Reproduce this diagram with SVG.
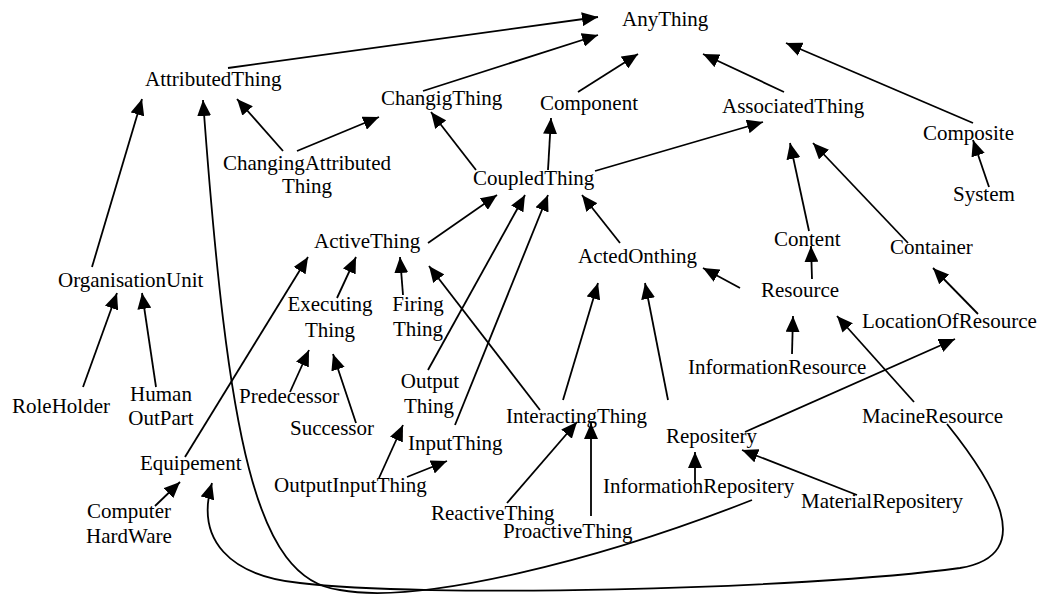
<svg xmlns="http://www.w3.org/2000/svg" width="1041" height="596" viewBox="0 0 1041 596">
  <style>
    text { font-family: "Liberation Serif", "Times New Roman", serif; font-size: 21px; fill: #000; }
    .mid { text-anchor: middle; }
    .edge { fill: none; stroke: #000; stroke-width: 1.8; marker-end: url(#head); }
  </style>
  <defs>
    <marker id="head" markerUnits="userSpaceOnUse" markerWidth="17" markerHeight="14" refX="16" refY="7" orient="auto">
      <path d="M0,0 L16,7 L0,14 z" fill="#000"/>
    </marker>
  </defs>
  <rect width="1041" height="596" fill="#fff"/>

  <!-- connectors: each one points from the child concept to its parent -->
  <g id="connectors">
    <path class="edge" d="M228,68 L598,17"/>
    <path class="edge" d="M423,91 L598,35"/>
    <path class="edge" d="M578,92 L638,54"/>
    <path class="edge" d="M784,92 L703,54"/>
    <path class="edge" d="M973,123 L786,43"/>
    <path class="edge" d="M989,187 L973,140"/>
    <path class="edge" d="M283,151 L237,99"/>
    <path class="edge" d="M297,151 L379,117"/>
    <path class="edge" d="M476,170 L431,112"/>
    <path class="edge" d="M548,170 L551,118"/>
    <path class="edge" d="M595,171 L763,122"/>
    <path class="edge" d="M809,231 L790,143"/>
    <path class="edge" d="M908,243 L813,143"/>
    <path class="edge" d="M92,267 L142,99"/>
    <path class="edge" d="M83,387 L117,293"/>
    <path class="edge" d="M156,387 L142,293"/>
    <path class="edge" d="M428,243 L497,195"/>
    <path class="edge" d="M428,370 L525,195"/>
    <path class="edge" d="M455,425 L548,195"/>
    <path class="edge" d="M620,243 L582,195"/>
    <path class="edge" d="M185,457 L308,257"/>
    <path class="edge" d="M337,298 L356,257"/>
    <path class="edge" d="M403,295 L400,257"/>
    <path class="edge" d="M540,410 L429,266"/>
    <path class="edge" d="M290,392 L309,350"/>
    <path class="edge" d="M356,423 L333,354"/>
    <path class="edge" d="M379,478 L403,425"/>
    <path class="edge" d="M407,477 L447,461"/>
    <path class="edge" d="M507,503 L577,422"/>
    <path class="edge" d="M591,516 L591,423"/>
    <path class="edge" d="M563,400 L598,283"/>
    <path class="edge" d="M668,400 L645,283"/>
    <path class="edge" d="M740,288 L703,268"/>
    <path class="edge" d="M812,279 L811,246"/>
    <path class="edge" d="M792,354 L793,316"/>
    <path class="edge" d="M914,402 L837,316"/>
    <path class="edge" d="M978,314 L933,268"/>
    <path class="edge" d="M745,432 L955,339"/>
    <path class="edge" d="M695,483 L695,452"/>
    <path class="edge" d="M857,495 L742,450"/>
    <path class="edge" d="M155,506 L180,482"/>
    <!-- long curved links running along the bottom -->
    <path class="edge" d="M947,424 C992,480 1040,555 960,568 C800,590 420,598 300,583 C230,576 195,540 212,483"/>
    <path class="edge" d="M752,500 C600,560 420,605 340,590 C255,580 228,440 203,100"/>
  </g>

  <g id="AnyThing"><text x="622" y="26">AnyThing</text></g>
  <g id="AttributedThing"><text x="145" y="86">AttributedThing</text></g>
  <g id="ChangigThing"><text x="381" y="105">ChangigThing</text></g>
  <g id="Component"><text x="540" y="110">Component</text></g>
  <g id="AssociatedThing"><text x="722" y="113">AssociatedThing</text></g>
  <g id="Composite"><text x="923" y="140">Composite</text></g>
  <g id="System"><text x="953" y="201">System</text></g>
  <g id="ChangingAttributedThing"><text class="mid" x="307" y="170">ChangingAttributed</text><text class="mid" x="307" y="193">Thing</text></g>
  <g id="CoupledThing"><text x="473" y="185">CoupledThing</text></g>
  <g id="Content"><text x="774" y="246">Content</text></g>
  <g id="Container"><text x="890" y="254">Container</text></g>
  <g id="ActiveThing"><text x="314" y="248">ActiveThing</text></g>
  <g id="ActedOnthing"><text x="578" y="263">ActedOnthing</text></g>
  <g id="OrganisationUnit"><text x="58" y="287">OrganisationUnit</text></g>
  <g id="Resource"><text x="761" y="297">Resource</text></g>
  <g id="ExecutingThing"><text class="mid" x="330" y="311">Executing</text><text class="mid" x="330" y="337">Thing</text></g>
  <g id="FiringThing"><text class="mid" x="418" y="311">Firing</text><text class="mid" x="418" y="336">Thing</text></g>
  <g id="LocationOfResource"><text x="862" y="328">LocationOfResource</text></g>
  <g id="InformationResource"><text x="688" y="374">InformationResource</text></g>
  <g id="OutputThing"><text class="mid" x="430" y="388">Output</text><text class="mid" x="429" y="413">Thing</text></g>
  <g id="Predecessor"><text x="239" y="403">Predecessor</text></g>
  <g id="HumanOutPart"><text class="mid" x="161" y="401">Human</text><text class="mid" x="161" y="425">OutPart</text></g>
  <g id="RoleHolder"><text x="12" y="413">RoleHolder</text></g>
  <g id="MacineResource"><text x="862" y="423">MacineResource</text></g>
  <g id="InteractingThing"><text x="506" y="423">InteractingThing</text></g>
  <g id="Successor"><text x="290" y="435">Successor</text></g>
  <g id="Repository"><text x="666" y="443">Repositery</text></g>
  <g id="InputThing"><text x="408" y="450">InputThing</text></g>
  <g id="Equipement"><text x="140" y="470">Equipement</text></g>
  <g id="OutputInputThing"><text x="274" y="492">OutputInputThing</text></g>
  <g id="InformationRepository"><text x="603" y="493">InformationRepositery</text></g>
  <g id="MaterialRepository"><text x="801" y="508">MaterialRepositery</text></g>
  <g id="ComputerHardWare"><text class="mid" x="129" y="518">Computer</text><text class="mid" x="129" y="543">HardWare</text></g>
  <g id="ReactiveThing"><text x="431" y="520">ReactiveThing</text></g>
  <g id="ProactiveThing"><text x="503" y="538">ProactiveThing</text></g>
</svg>
